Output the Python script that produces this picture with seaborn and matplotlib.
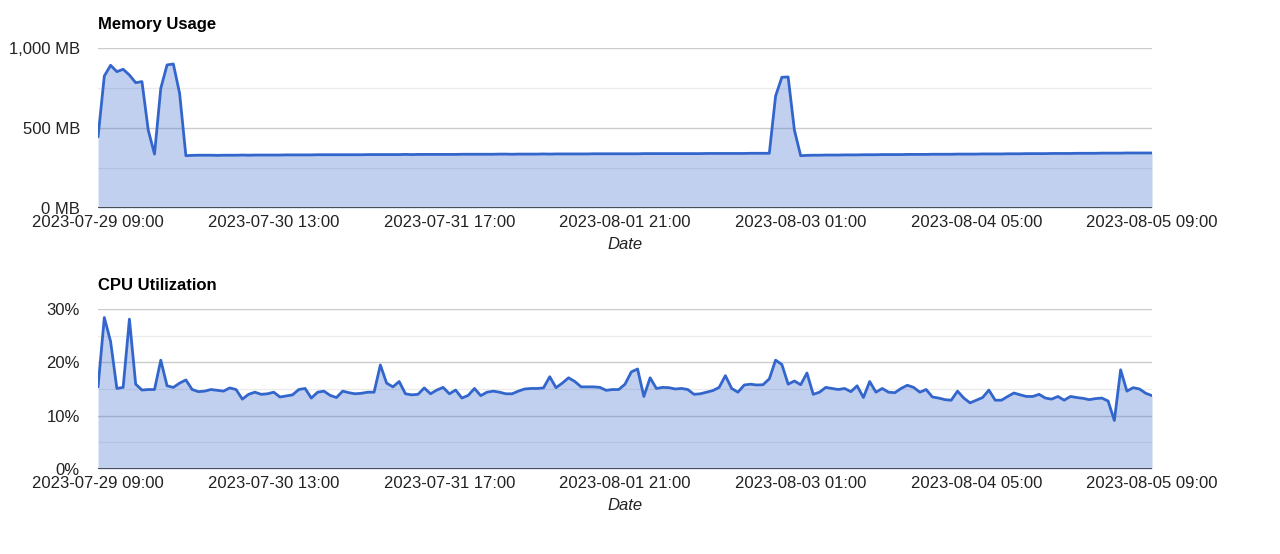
import numpy as np
import pandas as pd
import matplotlib
matplotlib.use("Agg")
import matplotlib.pyplot as plt
import seaborn as sns

# hourly samples, 2023-07-29 09:00 .. 2023-08-05 09:00
start = "2023-07-29 09:00"
end = "2023-08-05 09:00"

memory_mb = [
    445, 825, 892, 852, 867, 831, 783, 790, 487, 337, 748, 894, 900, 717, 327,
    329, 330, 330, 330, 329, 330, 330, 330, 331, 330, 331, 331, 331, 331, 331,
    332, 332, 332, 332, 332, 333, 333, 333, 333, 333, 333, 333, 333, 334, 334,
    334, 334, 334, 334, 335, 334, 335, 335, 335, 335, 335, 335, 335, 336, 336,
    336, 336, 336, 336, 337, 337, 336, 337, 337, 337, 337, 338, 337, 338, 338,
    338, 338, 338, 338, 339, 339, 339, 339, 339, 339, 339, 339, 340, 340, 340,
    340, 340, 340, 340, 340, 340, 340, 341, 341, 341, 341, 341, 341, 341, 342,
    342, 342,
    342, 700, 817, 819, 487, 327,
    329, 330, 330, 331, 331, 331, 332, 332, 332, 333,
    333, 333, 334, 334, 334, 334, 335, 335, 335, 335,
    336, 336, 336, 336, 337, 337, 337, 337, 338, 338,
    338, 338, 339, 339, 339, 340, 340, 340, 340, 341,
    341, 341, 341, 342, 342, 342, 342, 343, 343, 343,
    343, 344, 344, 344, 344, 344,
]

cpu_pct = [
    15.4, 28.4, 23.9, 15.1, 15.3, 28.1, 15.9, 14.8, 14.9, 14.9,
    20.4, 15.6, 15.3, 16.1, 16.7, 14.9, 14.5, 14.6, 14.9, 14.75,
    14.6, 15.2, 14.9, 13.1, 14.0, 14.4, 14.0, 14.1, 14.4, 13.5,
    13.7, 13.9, 14.9, 15.1, 13.3, 14.4, 14.6, 13.8, 13.4, 14.6,
    14.3, 14.1, 14.2, 14.4, 14.4, 19.5, 16.1, 15.4, 16.4, 14.1,
    13.9, 14.0, 15.2, 14.1, 14.8, 15.3, 14.1, 14.8, 13.3, 13.8,
    15.1, 13.75, 14.4, 14.6, 14.4, 14.1, 14.1, 14.6, 15.0, 15.1,
    15.1, 15.2, 17.3, 15.25, 16.1, 17.1, 16.4, 15.4, 15.4, 15.4,
    15.3, 14.75, 14.9, 14.9, 15.9, 18.2, 18.75, 13.6, 17.1, 15.1,
    15.3, 15.25, 15.0, 15.1, 14.9, 14.0, 14.1, 14.4, 14.7, 15.3,
    17.5, 15.1, 14.4, 15.75, 15.9, 15.75, 15.8, 16.9, 20.4, 19.6,
    15.9, 16.5, 15.8, 18.0, 14.0, 14.4, 15.3, 15.1, 14.9, 15.1,
    14.5, 15.6, 13.4, 16.4, 14.4, 15.1, 14.4, 14.3, 15.1, 15.7,
    15.3, 14.4, 14.9, 13.5, 13.3, 13.0, 12.9, 14.6, 13.3, 12.4,
    12.9, 13.4, 14.8, 12.9, 12.9, 13.6, 14.25, 13.9, 13.6, 13.6,
    14.0, 13.3, 13.1, 13.6, 12.9, 13.6, 13.4, 13.25, 13.0, 13.2,
    13.3, 12.75, 9.1, 18.6, 14.6, 15.25, 15.0, 14.2, 13.75,
]

mem_ticks = [0, 500, 1000]
mem_tick_labels = ["0 MB", "500 MB", "1,000 MB"]
mem_minor = [250, 750]
cpu_ticks = [0, 10, 20, 30]
cpu_tick_labels = ["0%", "10%", "20%", "30%"]
cpu_minor = [5, 15, 25]

LINE = "#3366cc"
TEXT = "#222222"

times = pd.date_range(start, end, freq="h")
df = pd.DataFrame({"Date": times, "Memory": memory_mb, "CPU": cpu_pct})
x_ticks = pd.date_range(start, end, freq="28h")

sns.set_theme(style="white")
plt.rcParams["font.family"] = ["Liberation Sans", "DejaVu Sans"]

fig = plt.figure(figsize=(12.8, 5.54), dpi=100)
ax_mem = fig.add_axes([0.0766, 0.6245, 0.8234, 0.2889])
ax_cpu = fig.add_axes([0.0766, 0.1534, 0.8234, 0.2889])


def draw_panel(ax, col, title, ticks, labels, minor, top):
    for v in ticks[1:]:
        ax.axhline(v, color="#cccccc", lw=1, zorder=0)
    for v in minor:
        ax.axhline(v, color="#ebebeb", lw=1, zorder=0)
    ax.fill_between(df["Date"], df[col], 0, color=LINE, alpha=0.3, lw=0, zorder=1)
    sns.lineplot(data=df, x="Date", y=col, ax=ax, color=LINE, lw=2, zorder=2)
    ax.axhline(0, color="#333333", lw=1.2, zorder=3)
    ax.set_xlim(times[0], times[-1])
    ax.set_ylim(0, top)
    ax.set_yticks(ticks)
    ax.set_yticklabels(labels)
    ax.set_xticks(x_ticks)
    ax.set_xticklabels([t.strftime("%Y-%m-%d %H:%M") for t in x_ticks])
    ax.tick_params(axis="both", length=0, labelsize=12, labelcolor=TEXT)
    ax.tick_params(axis="y", pad=13)
    ax.tick_params(axis="x", pad=5)
    ax.set_ylabel("")
    ax.set_xlabel("Date", fontsize=12, style="italic", color=TEXT, labelpad=5)
    ax.set_title(title, loc="left", fontsize=12, fontweight="bold", color="black", pad=14)
    for s in ax.spines.values():
        s.set_visible(False)


draw_panel(ax_mem, "Memory", "Memory Usage", mem_ticks, mem_tick_labels, mem_minor, 1000)
draw_panel(ax_cpu, "CPU", "CPU Utilization", cpu_ticks, cpu_tick_labels, cpu_minor, 30)

fig.savefig("out.png", dpi=100)
